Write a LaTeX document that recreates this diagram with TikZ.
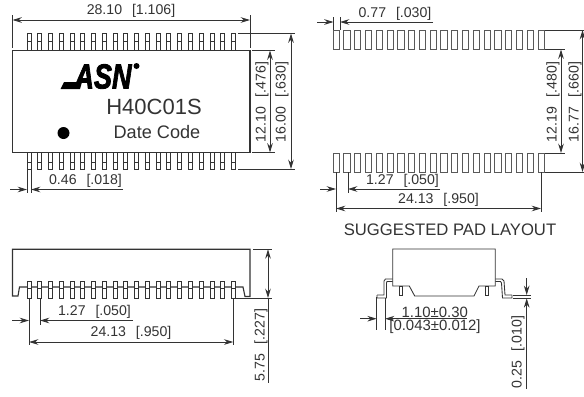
\documentclass[tikz,border=0pt]{standalone}
\usepackage{fontspec}
\setmainfont{Liberation Sans}
\newfontface\logofont{Liberation Sans Bold Italic}[FakeBold=2.5]
\usetikzlibrary{arrows.meta}
\definecolor{inkgray}{HTML}{333333}
\newcommand{\dimgap}{\hspace{0.7em}}
\tikzset{
  line/.style={draw=inkgray, line width=0.65pt},
  dim/.style={line, {Stealth[length=7pt,width=4.2pt]}-{Stealth[length=7pt,width=4.2pt]}},
  inarrow/.style={line, -{Stealth[length=7pt,width=4.2pt]}},
  ext/.style={draw=inkgray, line width=0.5pt},
  lbl/.style={text=inkgray, font=\fontsize{10.6}{12}\selectfont, inner sep=0pt},
  vlbl/.style={lbl, rotate=90},
  pin/.style={draw=inkgray, line width=0.6pt, fill=white},
  pad/.style={draw=black!65, line width=0.65pt, fill=white}
}
\begin{document}
\begin{tikzpicture}[x=0.75pt,y=-0.75pt]
\useasboundingbox (0,0) rectangle (584,396);

% Top view of the part
\draw[line, line width=0.85pt] (12.5,50.5) rectangle (250,152.5);
\foreach \i in {0,...,19} {
  \pgfmathsetmacro{\px}{29+10.76*\i}
  \draw[pin] (\px-2,33.5) rectangle (\px+2,50.5);
  \draw[ext] (\px-2,41) -- (\px+2,41);
  \draw[pin] (\px-2,152.5) rectangle (\px+2,169);
  \draw[ext] (\px-2,162) -- (\px+2,162);
}
\node[lbl] (overall) at (131,11) {28.10\dimgap[1.106]};
\draw[ext] (12.5,15) -- (12.5,48);
\draw[ext] (250,15) -- (250,48);
\draw[dim] (12.5,20) -- (250,20);

% Logo and marking
\fill[black] (60.5,89) -- (64,82) -- (82,82) -- (80,89) -- cycle;
\node[inner sep=0pt, font=\fontsize{26}{26}\selectfont\logofont, xscale=0.78] (logo) at (103,76.5) {ASN};
\fill[black] (136.5,66) circle (3);
\node[text=inkgray, inner sep=0pt, font=\fontsize{16.5}{20}\selectfont] (partno) at (154,107) {H40C01S};
\node[text=inkgray, inner sep=0pt, font=\fontsize{13.6}{16}\selectfont] (datecode) at (157,132) {Date Code};
\fill[black] (63.5,133) circle (6);

% Height dimensions of the top view
\draw[ext] (252,50.5) -- (275,50.5);
\draw[ext] (252,152.5) -- (275,152.5);
\draw[ext] (238,33.5) -- (295,33.5);
\draw[ext] (238,169) -- (295,169);
\draw[dim] (270,50.5) -- (270,152.5);
\draw[dim] (291,33.5) -- (291,169);
\node[vlbl] (bodyh) at (262,102) {12.10\dimgap[.476]};
\node[vlbl] (totalh) at (282,102) {16.00\dimgap[.630]};

% Pin width
\draw[ext] (27,170) -- (27,193);
\draw[ext] (31,170) -- (31,193);
\draw[inarrow] (10,189.5) -- (27,189.5);
\draw[inarrow] (123,189.5) -- (31,189.5);
\node[lbl] (pinw) at (85.5,181) {0.46\dimgap[.018]};

% Pad layout
\foreach \i in {0,...,19} {
  \pgfmathsetmacro{\px}{333+10.79*\i}
  \draw[pad] (\px,30) rectangle (\px+6.2,49.5);
  \draw[pad] (\px,153) rectangle (\px+6.2,172);
}
\draw[ext] (545,30) -- (585,30);
\draw[ext] (545,172) -- (585,172);
\draw[ext] (545,49.5) -- (565,49.5);
\draw[ext] (545,153) -- (565,153);
\draw[dim] (561,49.5) -- (561,153);
\draw[dim] (582.5,30) -- (582.5,172);
\node[vlbl] (padh) at (553,102) {12.19\dimgap[.480]};
\node[vlbl] (padtotal) at (575,102) {16.77\dimgap[.660]};
\draw[ext] (333.5,17) -- (333.5,30);
\draw[ext] (340,17) -- (340,30);
\draw[inarrow] (317,22) -- (333.5,22);
\draw[inarrow] (433,22) -- (340,22);
\node[lbl] (padw) at (395,14) {0.77\dimgap[.030]};
\draw[ext] (336,172) -- (336,212);
\draw[ext] (348,172) -- (348,193);
\draw[ext] (541,172) -- (541,212);
\draw[inarrow] (320,189) -- (336,189);
\draw[inarrow] (440,189) -- (348,189);
\node[lbl] (padpitch) at (402.5,181) {1.27\dimgap[.050]};
\draw[dim] (336,208.5) -- (541,208.5);
\node[lbl] (padspan) at (438.5,200) {24.13\dimgap[.950]};
\node[text=inkgray, inner sep=0pt, font=\fontsize{12.5}{15}\selectfont] (padtitle) at (450,230) {SUGGESTED PAD LAYOUT};

% Side view
\draw[line, line width=0.85pt] (19.5,287) -- (18,296) -- (12.5,296) -- (12.5,249.3) -- (250,249.3) -- (250,296.5) -- (245,296.5) -- (243,287) -- cycle;
\foreach \i in {0,...,19} {
  \pgfmathsetmacro{\px}{29+10.76*\i}
  \draw[pin] (\px-2,281) rectangle (\px+2,298);
  \draw[ext] (\px-2,288) -- (\px+2,288);
}
\draw[ext] (253,249.3) -- (272,249.3);
\draw[ext] (235,298) -- (272,298);
\draw[ext] (29,298) -- (29,345);
\draw[ext] (40,298) -- (40,325);
\draw[ext] (233.3,298) -- (233.3,345);
\draw[dim] (268,249.3) -- (268,298);
\draw[ext] (268,298) -- (268,383);
\node[vlbl] (height) at (261,345) {5.75\dimgap[.227]};
\draw[inarrow] (12,320.5) -- (29,320.5);
\draw[inarrow] (133,320.5) -- (40,320.5);
\node[lbl] (pitch) at (94.5,312) {1.27\dimgap[.050]};
\draw[dim] (29,342) -- (233.3,342);
\node[lbl] (span) at (131,333) {24.13\dimgap[.950]};

% End view
\draw[line] (392.7,286) -- (392.7,249) -- (495.3,249) -- (495.3,286) -- (479,286) -- (474,296) -- (414.7,296) -- (409.3,286) -- cycle;
\draw[pin] (399.8,286) rectangle (402.8,295);
\draw[pin] (485.2,286) rectangle (488.2,295);
\draw[line] (392.7,279) -- (385.5,279) -- (384,281) -- (384,295) -- (377,295);
\draw[line] (392.7,281.5) -- (387,281.5) -- (386.5,283) -- (386.5,298) -- (377,298) -- (377,295);
\draw[line] (495.3,279) -- (502,279) -- (504,281) -- (505,295) -- (512,295);
\draw[line] (495.3,281.5) -- (500.5,281.5) -- (501.5,283) -- (502.5,298) -- (512,298) -- (512,295);
\draw[ext] (513,295) -- (531,295);
\draw[ext] (513,298.3) -- (531,298.3);
\draw[inarrow] (526.7,278) -- (526.7,295);
\draw[inarrow] (526.7,389) -- (526.7,298.3);
\node[vlbl] (standoff) at (518,352) {0.25\dimgap[.010]};
\draw[ext] (376.7,297) -- (376.7,330);
\draw[ext] (385,298) -- (385,330);
\draw[inarrow] (360,318.7) -- (376.7,318.7);
\draw[inarrow] (466.7,318.7) -- (385,318.7);
\node[lbl, font=\fontsize{11.2}{13}\selectfont] (leadw) at (434.7,312) {1.10±0.30};
\node[lbl, font=\fontsize{11.2}{13}\selectfont] (leadin) at (435,327) {[0.043±0.012]};

\end{tikzpicture}
\end{document}
